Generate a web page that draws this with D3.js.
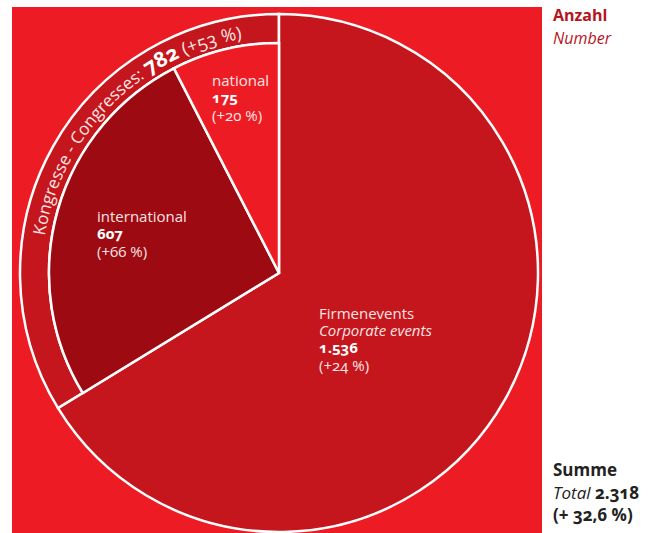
<!DOCTYPE html>
<html><head><meta charset="utf-8">
<script src="https://cdn.jsdelivr.net/npm/d3@7"></script>
<style>
body{margin:0;background:#fff;}
svg text{font-family:"Open Sans","Lato",sans-serif;font-feature-settings:"onum" 1;font-variant-numeric:oldstyle-nums;}
</style></head>
<body><svg id="c" width="650" height="533"></svg>
<script>
const categories = ["Firmenevents", "international", "national"];
const subLabels = ["Corporate events", "", ""];
const values = [1536, 607, 175];
const valueLabels = ["1.536", "607", "175"];
const changes = ["(+24 %)", "(+66 %)", "(+20 %)"];
const congressLabel = "Kongresse - Congresses: ";
const congressValue = 782;
const congressValueLabel = "782";
const congressChange = " (+53 %)";
const totalValueLabel = "2.318";
const totalChange = "(+ 32,6 %)";

const svg = d3.select("#c");
const cx = 279, cy = 273, R = 259, r = 230;
const bright = "#ED1C24", mid = "#C4161C", dark = "#9E0A12";
const fills = [mid, dark, bright];

svg.append("rect").attr("x", 12).attr("y", 7).attr("width", 530).attr("height", 526).attr("fill", bright);

const g = svg.append("g").attr("transform", `translate(${cx},${cy})`);
const pie = d3.pie().sort(null).value(d => d)(values);

// congress ring
const firmEnd = pie[0].endAngle;
const ringArc = d3.arc().innerRadius(r).outerRadius(R);
g.append("path")
  .attr("d", ringArc({startAngle: firmEnd, endAngle: 2 * Math.PI}))
  .attr("fill", mid).attr("stroke", "#fff").attr("stroke-width", 2.5).attr("stroke-linejoin", "miter");

pie.forEach((p, i) => {
  const a = d3.arc().innerRadius(0).outerRadius(i === 0 ? R : r);
  g.append("path").attr("d", a(p)).attr("fill", fills[i])
    .attr("stroke", "#fff").attr("stroke-width", 2.5).attr("stroke-linejoin", "miter");
});

// curved text
const tr = 237;
const a0 = -81 * Math.PI / 180, a1 = -2 * Math.PI / 180;
const pt = a => [tr * Math.sin(a), -tr * Math.cos(a)];
const p0 = pt(a0), p1 = pt(a1);
g.append("path").attr("id", "ringPath").attr("fill", "none")
  .attr("d", `M${p0[0]},${p0[1]} A${tr},${tr} 0 0 1 ${p1[0]},${p1[1]}`);
const tp = g.append("text").attr("fill", "#fbe6e6").style("font-size", "17px")
  .append("textPath").attr("href", "#ringPath").attr("startOffset", 0);
tp.append("tspan").text(congressLabel);
tp.append("tspan").attr("font-weight", "700").attr("fill", "#fff").style("font-size", "21px").text(congressValueLabel);
tp.append("tspan").style("font-size", "18px").text(congressChange);

// slice labels (one text element per line)
const labelPos = [[319, 319], [97, 222], [212, 86]];
const lc = "#fbe3e3";
pie.forEach((p, i) => {
  const x = labelPos[i][0];
  let y = labelPos[i][1];
  const line = (txt, opts) => {
    const t = svg.append("text").attr("x", x).attr("y", y).attr("fill", opts.fill || lc).style("font-size", "15px").text(txt);
    if (opts.bold) t.attr("font-weight", "700");
    if (opts.italic) t.attr("font-style", "italic");
  };
  line(categories[i], {});
  if (subLabels[i]) { y += 17; line(subLabels[i], {italic: true}); }
  y += 17; line(valueLabels[i], {bold: true, fill: "#fff"});
  y += 18; line(changes[i], {});
});

// legend right
const lx = 553;
svg.append("text").attr("x", lx).attr("y", 21).attr("fill", "#B5161D").attr("font-weight", "700").style("font-size", "16px").text("Anzahl");
svg.append("text").attr("x", lx).attr("y", 44).attr("fill", "#B5161D").attr("font-style", "italic").style("font-size", "16px").text("Number");

const tc = "#222";
svg.append("text").attr("x", lx).attr("y", 476).attr("fill", tc).attr("font-weight", "700").style("font-size", "17px").text("Summe");
const t2 = svg.append("text").attr("x", lx).attr("y", 499).attr("fill", tc).style("font-size", "17px");
t2.append("tspan").attr("font-style", "italic").text("Total ");
t2.append("tspan").attr("font-weight", "700").text(totalValueLabel);
svg.append("text").attr("x", lx).attr("y", 521).attr("fill", tc).attr("font-weight", "700").style("font-size", "17px").text(totalChange);
</script></body></html>
